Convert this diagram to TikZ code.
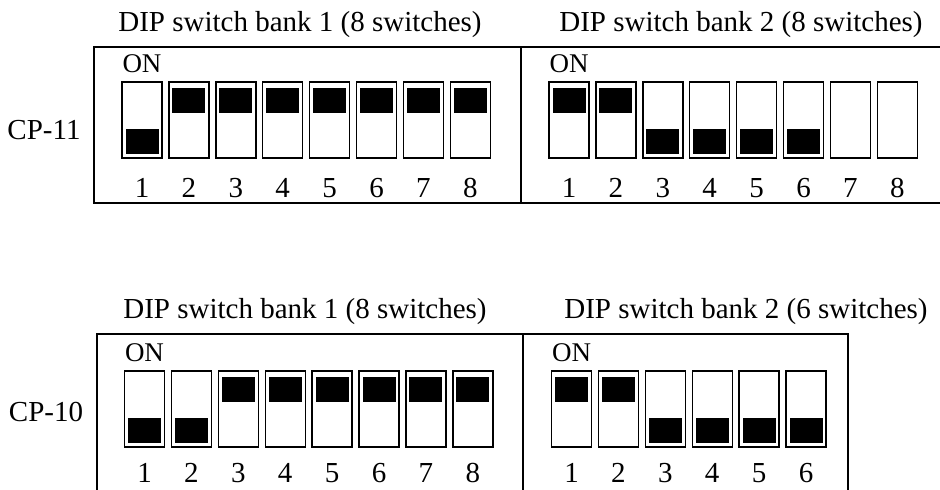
\documentclass[tikz,border=0pt]{standalone}
\usepackage{fontspec}
\setmainfont{Liberation Serif}
\usetikzlibrary{positioning}
\tikzset{
  dipsw/.style   = {rectangle, draw, line width=0.7pt, minimum width=20pt,
                    minimum height=38pt, inner sep=0pt},
  knob/.style    = {rectangle, fill=black, minimum width=16.5pt,
                    minimum height=12.5pt, inner sep=0pt},
  banktitle/.style={font=\fontsize{14.5}{17}\selectfont, inner sep=0pt},
  swnum/.style   = {font=\fontsize{14.5}{17}\selectfont, inner sep=0pt},
  onlab/.style   = {font=\fontsize{13.5}{16}\selectfont, inner sep=0pt},
  cplab/.style   = {font=\fontsize{14.5}{17}\selectfont, inner sep=0pt},
  panel/.style   = {line width=0.7pt},
}
\begin{document}
\begin{tikzpicture}[x=0.5pt, y=0.5pt]
  \useasboundingbox (0,0) rectangle (940,-489);
  % ---- CP-11 ----
  \node[banktitle] (t11a) at (300,-25) {DIP switch bank 1 (8 switches)};
  \node[banktitle] (t11b) at (741,-25) {DIP switch bank 2 (8 switches)};
  \node[cplab] (cp11) at (44,-130) {CP-11};
  \draw[panel] (945,-47) -- (94,-47) -- (94,-203) -- (945,-203);
  \draw[panel] (521,-47) -- (521,-203);
  \foreach \i in {1,...,8}{
    \node[dipsw] (a\i) at ({142+46.9*(\i-1)},-120) {};
    \node[swnum, below=9.5pt of a\i.south] (na\i) {\i};
    \node[dipsw] (b\i) at ({569+46.9*(\i-1)},-120) {};
    \node[swnum, below=9.5pt of b\i.south] (nb\i) {\i};
  }
  \node[onlab, above=4pt of a1.north] (ona) {ON};
  \node[onlab, above=4pt of b1.north] (onb) {ON};
  \node[knob, above=2pt of a1.south] (ka1) {};
  \foreach \i in {2,...,8}{\node[knob, below=3pt of a\i.north] (ka\i) {};}
  \foreach \i in {1,2}{\node[knob, below=3pt of b\i.north] (kb\i) {};}
  \foreach \i in {3,...,6}{\node[knob, above=2pt of b\i.south] (kb\i) {};}
  % ---- CP-10 ----
  \node[banktitle] (t10a) at (305,-312) {DIP switch bank 1 (8 switches)};
  \node[banktitle] (t10b) at (746,-312) {DIP switch bank 2 (6 switches)};
  \node[cplab] (cp10) at (46,-412) {CP-10};
  \draw[panel] (97,-500) -- (97,-334) -- (848,-334) -- (848,-500);
  \draw[panel] (523,-334) -- (523,-500);
  \foreach \i in {1,...,8}{
    \node[dipsw] (c\i) at ({144.5+46.9*(\i-1)},-409) {};
    \node[swnum, below=7.5pt of c\i.south] (nc\i) {\i};
  }
  \foreach \i in {1,...,6}{
    \node[dipsw] (d\i) at ({571.5+46.9*(\i-1)},-409) {};
    \node[swnum, below=7.5pt of d\i.south] (nd\i) {\i};
  }
  \node[onlab, above=4pt of c1.north] (onc) {ON};
  \node[onlab, above=4pt of d1.north] (ond) {ON};
  \foreach \i in {1,2}{\node[knob, above=2pt of c\i.south] (kc\i) {};}
  \foreach \i in {3,...,8}{\node[knob, below=3pt of c\i.north] (kc\i) {};}
  \foreach \i in {1,2}{\node[knob, below=3pt of d\i.north] (kd\i) {};}
  \foreach \i in {3,...,6}{\node[knob, above=2pt of d\i.south] (kd\i) {};}
\end{tikzpicture}
\end{document}
